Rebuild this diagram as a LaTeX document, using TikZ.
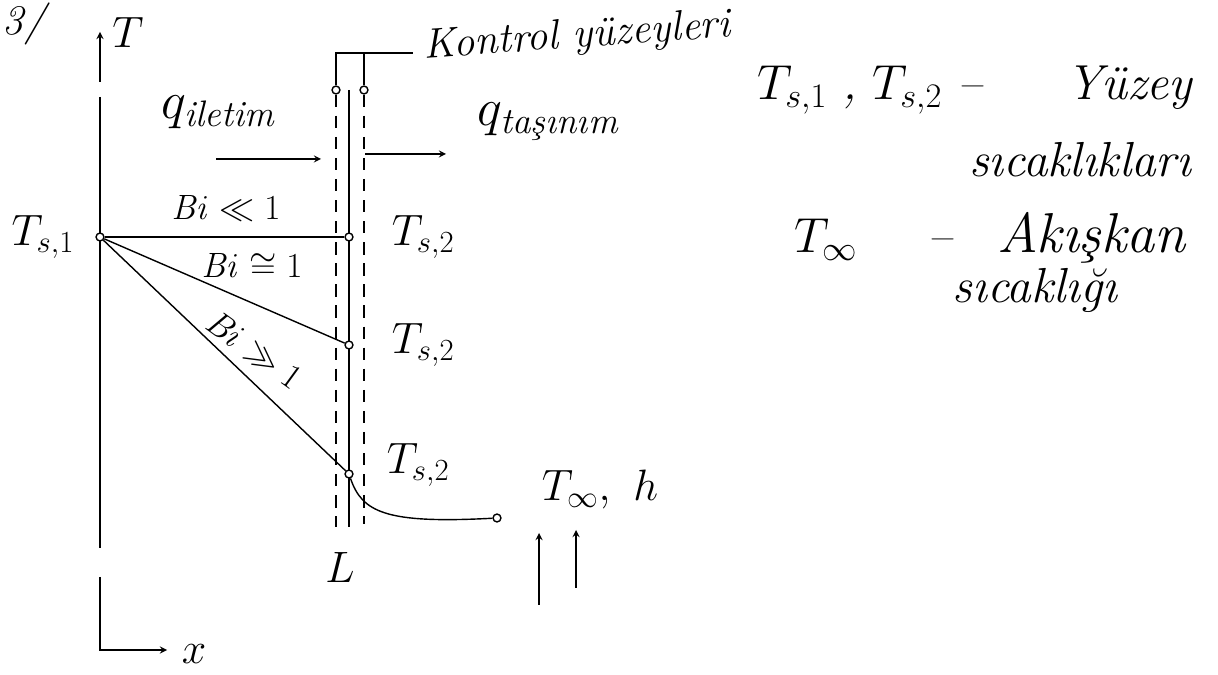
\RequirePackage{fix-cm}
\documentclass[tikz,border=0pt]{standalone}
\usepackage{amsmath}
\usepackage{tikz}
\usetikzlibrary{arrows.meta, positioning}

\begin{document}
\begin{tikzpicture}[x=0.02cm, y=-0.02cm, node distance=0.5cm,
    lbl/.style={font=\fontsize{25}{28}\selectfont\itshape, inner sep=1pt},
    bilbl/.style={font=\fontsize{20}{24}\selectfont\itshape, inner sep=1pt},
    note/.style={font=\fontsize{28}{32}\selectfont\itshape, inner sep=1pt},
    dot/.style={circle, draw, thick, fill=white, inner sep=0pt, minimum size=4.5pt},
    wall/.style={thick, dash pattern=on 7pt off 5pt},
    line/.style={thick},
    arrow/.style={->, >=stealth, thick}]

    \useasboundingbox (0,0) rectangle (1218,675);

    % Axes
    \node[font=\fontsize{24}{28}\selectfont\itshape, inner sep=1pt] (num) at (24,24) {3/};
    \coordinate (tbase) at (100,82);
    \coordinate (ttip) at (100,32);
    \draw[arrow] (tbase) -- (ttip);
    \node[lbl] (tlab) at (128,32) {$T$};
    \coordinate (atop) at (100,97);
    \coordinate (abot) at (100,548);
    \draw[line] (atop) -- (abot);
    \coordinate (xstart) at (100,577);
    \coordinate (o) at (100,650);
    \coordinate (xtip) at (167,650);
    \draw[arrow] (xstart) -- (o) -- (xtip);
    \node[lbl] (xlab) at (194,654) {$x$};

    % Wall and control surfaces
    \node[dot] (cl) at (336,90) {};
    \node[dot] (cr) at (364,90) {};
    \coordinate (bl) at (336,53);
    \coordinate (bm) at (364,53);
    \coordinate (br) at (413,53);
    \draw[line] (cl) -- (bl) -- (br);
    \draw[line] (bm) -- (cr);
    \coordinate (clb) at (336,527);
    \coordinate (crb) at (364,524);
    \coordinate (wtop) at (349,90);
    \coordinate (wbot) at (349,527);
    \draw[wall] (cl) -- (clb);
    \draw[wall] (cr) -- (crb);
    \draw[line] (wtop) -- (wbot);
    \node[font=\fontsize{24}{28}\selectfont\itshape, anchor=west, rotate=4, inner sep=1pt] (kontrol) at (422,48) {Kontrol yüzeyleri};

    % Heat flows
    \node[font=\fontsize{30}{34}\selectfont\itshape, inner sep=1pt] (qcond) at (218,112) {$q_{\text{iletim}}$};
    \node[font=\fontsize{30}{34}\selectfont\itshape, inner sep=1pt] (qconv) at (548,122) {$q_{\text{taşınım}}$};
    \coordinate (ia) at (216,159);
    \coordinate (ib) at (321,159);
    \draw[arrow] (ia) -- (ib);
    \coordinate (ca) at (365,154);
    \coordinate (cb) at (446,154);
    \draw[arrow] (ca) -- (cb);

    % Temperature profiles
    \node[dot] (s1) at (100,237) {};
    \node[dot] (w1) at (349,237) {};
    \node[dot] (w2) at (349,345) {};
    \node[dot] (w3) at (349,474) {};
    \node[dot] (finf) at (497,518) {};
    \draw[line] (s1) -- (w1);
    \draw[line] (s1) -- (w2);
    \draw[line] (s1) -- (w3);
    \draw[line] (w3) .. controls (362,512) and (385,524) .. (finf);

    % Labels
    \node[lbl, left=0.38cm of s1] (ts1) {$T_{s,1}$};
    \node[lbl, right=0.72cm of w1] (ts2a) {$T_{s,2}$};
    \node[lbl, right=0.72cm of w2] (ts2b) {$T_{s,2}$};
    \node[lbl, right=0.62cm of w3, yshift=5pt] (ts2c) {$T_{s,2}$};
    \node[bilbl] (bi1) at (226,208) {$\mathit{Bi} \ll 1$};
    \node[bilbl] (bi2) at (252,266) {$\mathit{Bi} \cong 1$};
    \node[bilbl, rotate=-36] (bi3) at (254,350) {$\mathit{Bi} \gg 1$};
    \node[lbl] (tinf) at (600,490) {$T_\infty,\ h$};
    \node[lbl] (llab) at (340,567) {$L$};

    % Fluid flow
    \coordinate (f1a) at (539,605);
    \coordinate (f1b) at (539,533);
    \coordinate (f2a) at (576,588);
    \coordinate (f2b) at (576,530);
    \draw[arrow] (f1a) -- (f1b);
    \draw[arrow] (f2a) -- (f2b);

    % Legend
    \node[note, anchor=west] (leg1) at (755,90) {$T_{s,1}$\hspace{0.3cm},\hspace{0.3cm}$T_{s,2}$\hspace{0.3cm}--\hspace{1.7cm}Yüzey};
    \node[note] (leg2) at (1080,160) {sıcaklıkları};
    \node[note, anchor=west] (leg3) at (792,238) {$T_\infty$\hspace{1.4cm}--\hspace{0.9cm}{\fontsize{32}{36}\selectfont Akışkan}};
    \node[note] (leg4) at (1035,290) {sıcaklığı};
\end{tikzpicture}
\end{document}
